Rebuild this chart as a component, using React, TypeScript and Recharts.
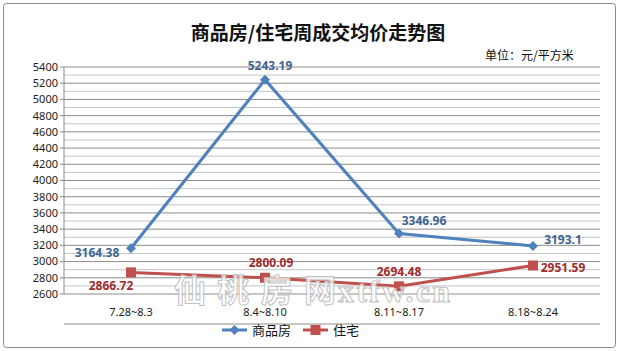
import React from "react";
import { CartesianGrid, LabelList, Line, LineChart, ReferenceLine, XAxis, YAxis } from "recharts";

const weeks = ["7.28~8.3", "8.4~8.10", "8.11~8.17", "8.18~8.24"];
const commercial = [3164.38, 5243.19, 3346.96, 3193.1];
const housing = [2866.72, 2800.09, 2694.48, 2951.59];
const yTicks = [2600, 2800, 3000, 3200, 3400, 3600, 3800, 4000, 4200, 4400, 4600, 4800, 5000, 5200, 5400];
const minorLines = [2700, 2900, 3100, 3300, 3500, 3700, 3900, 4100, 4300, 4500, 4700, 4900, 5100, 5300];
const boundaries = [0, 1, 2, 3, 4];

const BLUE = "#4F81BD";
const RED = "#C0504D";
const BLUE_TEXT = "#3E6593";
const RED_TEXT = "#A02B2B";
const NUM_FONT = "'Noto Sans', 'DejaVu Sans', sans-serif";
const CJK_FONT = "'Noto Sans CJK SC', sans-serif";

// label offsets from the point (dx, dy to text centre)
const blueOffsets = [
  [-34, 4],
  [5, -14],
  [25, -13],
  [30, -6],
];
const redOffsets = [
  [-20, 13],
  [6, -15],
  [0, -15],
  [30, 2],
];

const data = weeks.map((w, i) => ({ week: w, commercial: commercial[i], housing: housing[i] }));

function Diamond(props: any) {
  const { cx, cy } = props;
  if (cx == null || cy == null) return null;
  return <path d={`M${cx},${cy - 5}L${cx + 5},${cy}L${cx},${cy + 5}L${cx - 5},${cy}Z`} fill={BLUE} />;
}

function Square(props: any) {
  const { cx, cy } = props;
  if (cx == null || cy == null) return null;
  return <rect x={cx - 5} y={cy - 5} width={10} height={10} fill={RED} />;
}

function makeLabel(offsets: number[][], color: string) {
  return (props: any) => {
    const { x, y, index, value } = props;
    const [dx, dy] = offsets[index] || [0, -10];
    return (
      <text
        x={x + dx}
        y={y + dy}
        textAnchor="middle"
        dominantBaseline="central"
        fill={color}
        fontSize={12}
        fontWeight={700}
        fontFamily={NUM_FONT}
      >
        {value}
      </text>
    );
  };
}

export default function App() {
  return (
    <div style={{ position: "absolute", left: 0, top: 0, width: 619, height: 351, background: "#fff" }}>
      <LineChart width={619} height={351} data={data} margin={{ top: 67, right: 19, left: 0, bottom: 22 }}>
        <CartesianGrid vertical={false} stroke="#8C8C8C" />
        {minorLines.map((v) => (
          <ReferenceLine key={v} y={v} stroke="#C4C4C4" ifOverflow="hidden" />
        ))}
        <XAxis
          xAxisId="b"
          type="number"
          domain={[0, 4]}
          ticks={boundaries}
          allowDataOverflow
          tick={false}
          height={5}
          tickSize={5}
          stroke="#8C8C8C"
        />
        <XAxis
          dataKey="week"
          padding={{ left: 67, right: 67 }}
          axisLine={false}
          tickLine={false}
          height={30}
          tickMargin={8}
          tick={{ fill: "#222", fontSize: 11, fontFamily: NUM_FONT }}
        />
        <YAxis
          domain={[2600, 5400]}
          ticks={yTicks}
          interval={0}
          width={64}
          tickSize={4}
          tickMargin={2}
          stroke="#8C8C8C"
          tick={{ fill: "#222", fontSize: 11, fontFamily: NUM_FONT }}
        />
        <Line
          dataKey="commercial"
          stroke={BLUE}
          strokeWidth={3}
          dot={<Diamond />}
          isAnimationActive={false}
        >
          <LabelList dataKey="commercial" content={makeLabel(blueOffsets, BLUE_TEXT)} />
        </Line>
        <Line
          dataKey="housing"
          stroke={RED}
          strokeWidth={3}
          dot={<Square />}
          isAnimationActive={false}
        >
          <LabelList dataKey="housing" content={makeLabel(redOffsets, RED_TEXT)} />
        </Line>
      </LineChart>
      <svg
        width={619}
        height={351}
        style={{ position: "absolute", left: 0, top: 0, pointerEvents: "none" }}
      >
        <rect x={3.5} y={3.5} width={612} height={344} rx={3} fill="none" stroke="#8A8A8A" />
        <text x={318} y={40} textAnchor="middle" fontSize={19} fontWeight={700} fontFamily={CJK_FONT} fill="#111">
          商品房/住宅周成交均价走势图
        </text>
        <text x={485} y={60} fontSize={12} fontFamily={CJK_FONT} fill="#111">
          单位：元/平方米
        </text>
        <g fill="#fff" fillOpacity={0.75} stroke="#C2C2C2" strokeWidth={1}>
          <text x={174} y={302} fontSize={32} textLength={162} fontFamily={CJK_FONT} fontWeight={700}>
            仙桃房网
          </text>
          <text x={338} y={302} fontSize={32} textLength={112} fontFamily="'Liberation Serif', serif" fontWeight={700}>
            xtfw.cn
          </text>
        </g>
        <line x1={222} y1={330} x2={247} y2={330} stroke={BLUE} strokeWidth={3} />
        <path d="M234.5,325L239.5,330L234.5,335L229.5,330Z" fill={BLUE} />
        <text x={252} y={335} fontSize={13} fontFamily={CJK_FONT} fill="#111">
          商品房
        </text>
        <line x1={303} y1={330} x2={328} y2={330} stroke={RED} strokeWidth={3} />
        <rect x={310.5} y={325} width={10} height={10} fill={RED} />
        <text x={333} y={335} fontSize={13} fontFamily={CJK_FONT} fill="#111">
          住宅
        </text>
      </svg>
    </div>
  );
}
